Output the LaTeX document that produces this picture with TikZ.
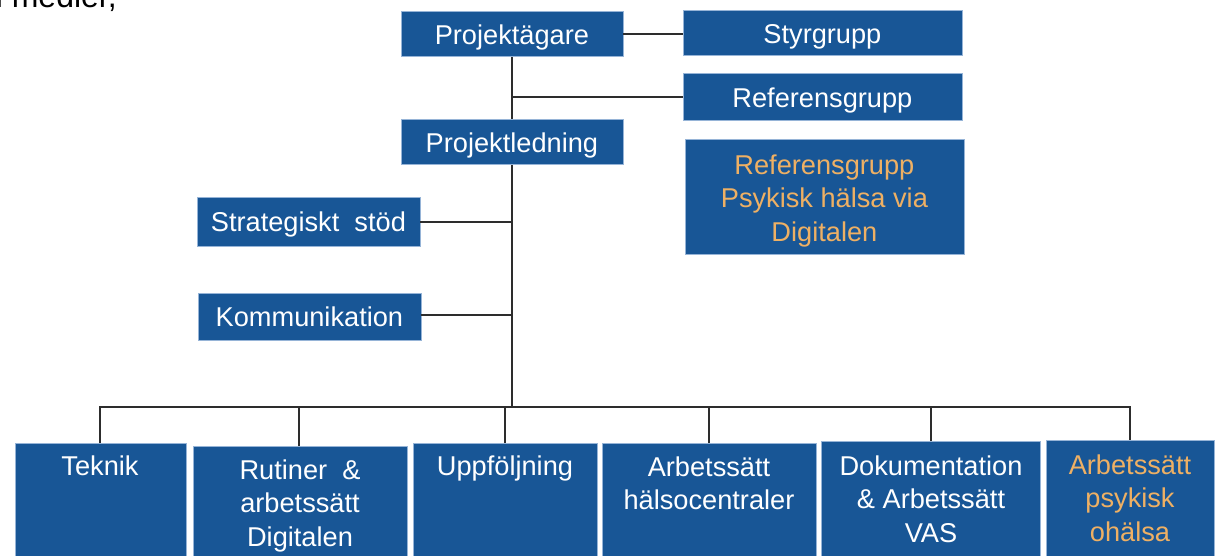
\documentclass[tikz,border=0pt]{standalone}
\usepackage{fontspec}
\setmainfont{Liberation Sans}
\definecolor{boxblue}{RGB}{24,86,150}
\definecolor{boxedge}{RGB}{150,180,215}
\definecolor{orangetxt}{RGB}{238,176,100}
\definecolor{linegray}{RGB}{45,45,45}
\tikzset{
  box/.style={draw=boxedge, line width=0.8pt, fill=boxblue, inner sep=0pt, anchor=north west},
  lbl/.style={text=white, inner sep=0pt, font=\fontsize{27.2}{33.5}\selectfont, text height=19.4pt, text depth=0pt},
  mlbl/.style={text=white, inner sep=0pt, align=center, anchor=north, font=\fontsize{27.2}{33.5}\selectfont},
  orng/.style={text=orangetxt},
  conn/.style={draw=linegray, line width=1.6pt},
}
\begin{document}
\begin{tikzpicture}[x=1pt,y=-1pt]
\useasboundingbox (0,0) rectangle (1215,556);
% cut-off text at top-left
\node[anchor=base east, inner sep=0pt, font=\fontsize{32}{36}\selectfont, text=black] (medier) at (117,8) {i medier,};
% top level boxes
\node[box, minimum width=222pt, minimum height=45pt] (pa) at (400.5,11.5) {};
\node[lbl] (pat) at (pa.center) {Projektägare};
\node[box, minimum width=279pt, minimum height=45pt] (sg) at (682.5,10.5) {};
\node[lbl] (sgt) at (sg.center) {Styrgrupp};
\node[box, minimum width=279pt, minimum height=47pt] (rg) at (682.5,73.5) {};
\node[lbl] (rgt) at (rg.center) {Referensgrupp};
\node[box, minimum width=222pt, minimum height=45pt] (pl) at (400.5,119.5) {};
\node[lbl] (plt) at (pl.center) {Projektledning};
\node[box, minimum width=279pt, minimum height=114pt] (rgp) at (684.5,139.5) {};
\node[mlbl, orng] (rgpt) at ([yshift=-15pt]rgp.north) {Referensgrupp\\Psykisk hälsa via\\Digitalen};
\node[box, minimum width=223pt, minimum height=48pt] (ss) at (196.5,197.5) {};
\node[lbl] (sst) at (ss.center) {Strategiskt\ \ stöd};
\node[box, minimum width=223pt, minimum height=47pt] (ko) at (197.5,292.5) {};
\node[lbl] (kot) at (ko.center) {Kommunikation};
% bottom boxes
\node[box, minimum width=171pt, minimum height=120pt] (te) at (15,443) {};
\node[mlbl] (tet) at (100,456) {Teknik};
\node[box, minimum width=214pt, minimum height=120pt] (ru) at (193,446) {};
\node[mlbl] (rut) at (300,459.5) {Rutiner \ \&\\arbetssätt\\Digitalen};
\node[box, minimum width=184pt, minimum height=120pt] (up) at (413,443) {};
\node[mlbl] (upt) at (505,456) {Uppföljning};
\node[box, minimum width=214pt, minimum height=120pt] (hc) at (602,443) {};
\node[mlbl] (hct) at (709,456.5) {Arbetssätt\\hälsocentraler};
\node[box, minimum width=219pt, minimum height=120pt] (dk) at (821,441) {};
\node[mlbl] (dkt) at (931,455.5) {Dokumentation\\\& Arbetssätt\\VAS};
\node[box, minimum width=168pt, minimum height=120pt] (ps) at (1046,440) {};
\node[mlbl, orng] (pst) at (1130,454.5) {Arbetssätt\\psykisk\\ohälsa};
% connector coordinates
\coordinate (j1) at (512,97);
\coordinate (j2) at (512,222);
\coordinate (j3) at (512,315);
\coordinate (j4) at (512,407);
% connectors
\draw[conn] (pa.east |- 0,34) -- (sg.west |- 0,34);
\draw[conn] (pa.south -| j1) -- (pl.north -| j1);
\draw[conn] (j1) -- (rg.west |- j1);
\draw[conn] (pl.south -| j1) -- (j4);
\draw[conn] (ss.east |- j2) -- (j2);
\draw[conn] (ko.east |- j3) -- (j3);
\draw[conn] (te.north -| 100,0) |- (j4) ;
\draw[conn] (j4) -| (ps.north -| 1130,0);
\draw[conn] (ru.north -| 299,0) -- (299,407);
\draw[conn] (up.north -| 505,0) -- (505,407);
\draw[conn] (hc.north -| 709,0) -- (709,407);
\draw[conn] (dk.north -| 931,0) -- (931,407);
\end{tikzpicture}
\end{document}
